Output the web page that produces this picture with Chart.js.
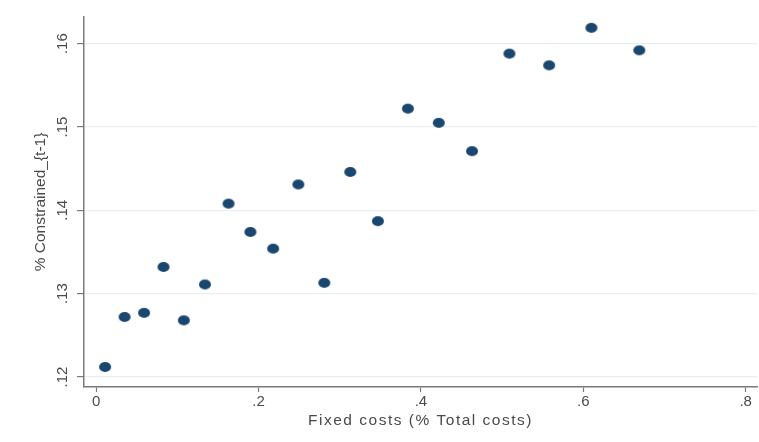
<!DOCTYPE html>
<html>
<head>
<meta charset="utf-8">
<script src="https://cdn.jsdelivr.net/npm/chart.js@4"></script>
<style>
  html, body { margin: 0; padding: 0; background: #ffffff; }
  #wrap { width: 759px; height: 442px; }
</style>
</head>
<body>
<div id="wrap"><canvas id="scatter"></canvas></div>
<script>
// Fixed costs share vs. share of constrained firms in the previous period
const fixedCosts = [0.011, 0.035, 0.059, 0.083, 0.108, 0.134, 0.163, 0.190, 0.218, 0.249,
                    0.281, 0.313, 0.347, 0.384, 0.422, 0.463, 0.509, 0.558, 0.610, 0.669];
const constrained = [0.1212, 0.1272, 0.1277, 0.1332, 0.1268, 0.1311, 0.1408, 0.1374, 0.1354, 0.1431,
                     0.1313, 0.1446, 0.1387, 0.1522, 0.1505, 0.1471, 0.1588, 0.1574, 0.1619, 0.1592];
const xTicks = [0, 0.2, 0.4, 0.6, 0.8];
const yTicks = [0.12, 0.13, 0.14, 0.15, 0.16];

const points = fixedCosts.map((x, i) => ({ x, y: constrained[i] }));

// Stata-style labels: drop the leading zero (".2", ".14")
const stataFmt = v => {
    if (v === 0) return '0';
    return String(+v.toFixed(2)).replace(/^0/, '');
};

// slightly wide oval marker, with a 1px margin so the edges aren't clipped
function ovalMarker(w, h, color) {
    const c = document.createElement('canvas');
    c.width = w + 2; c.height = h + 2;
    const g = c.getContext('2d');
    g.fillStyle = color;
    g.beginPath();
    g.ellipse(c.width / 2, c.height / 2, w / 2, h / 2, 0, 0, Math.PI * 2);
    g.fill();
    return c;
}

const axisGray = '#7a7a7a';
const textGray = '#4a4a4a';
const fontFamily = 'Liberation Sans, Arial, sans-serif';

// wider tracking for the horizontal axis title
function spacedTitle(scale) {
    if (scale._spaced) return;
    const orig = scale.drawTitle;
    scale.drawTitle = function () {
        this.ctx.save();
        this.ctx.letterSpacing = '1.5px';
        orig.apply(this, arguments);
        this.ctx.restore();
    };
    scale._spaced = true;
}

new Chart(document.getElementById('scatter'), {
    type: 'scatter',
    data: {
        datasets: [{
            data: points,
            pointStyle: ovalMarker(12, 10, '#1a476f'),
            backgroundColor: '#1a476f',
            borderColor: '#1a476f',
            pointRadius: 6,
            pointHoverRadius: 6
        }]
    },
    options: {
        responsive: true,
        maintainAspectRatio: false,
        animation: false,
        layout: { autoPadding: false, padding: { top: 17, right: 2, left: 0, bottom: 0 } },
        plugins: { legend: { display: false }, tooltip: { enabled: false } },
        scales: {
            x: {
                type: 'linear',
                min: -0.015,
                max: 0.814,
                afterBuildTicks: s => { s.ticks = xTicks.map(v => ({ value: v })); },
                afterFit: s => {
                    s.height = 55;
                    s.paddingLeft = 0;
                    s.paddingRight = 0;
                    spacedTitle(s);
                },
                border: { color: axisGray, width: 1.5 },
                grid: { drawOnChartArea: false, tickLength: 5, tickColor: axisGray, tickWidth: 1.2 },
                ticks: {
                    callback: v => stataFmt(v),
                    color: textGray,
                    padding: 1,
                    font: { family: fontFamily, size: 15 }
                },
                title: {
                    display: true,
                    text: 'Fixed costs (% Total costs)',
                    color: textGray,
                    padding: { top: 0, bottom: 12 },
                    font: { family: fontFamily, size: 15.5 }
                }
            },
            y: {
                type: 'linear',
                min: 0.1188,
                max: 0.1632,
                afterBuildTicks: s => { s.ticks = yTicks.map(v => ({ value: v })); },
                afterFit: s => { s.width = 84; },
                border: { color: axisGray, width: 1.5 },
                grid: { color: '#e8eff1', lineWidth: 1.2, tickLength: 7, tickColor: axisGray, tickWidth: 1.2 },
                ticks: {
                    callback: v => stataFmt(v),
                    color: textGray,
                    minRotation: 90,
                    maxRotation: 90,
                    crossAlign: 'center',
                    padding: 4,
                    font: { family: fontFamily, size: 15 }
                },
                title: {
                    display: true,
                    text: '% Constrained_{t-1}',
                    color: textGray,
                    padding: { top: 31, bottom: 0 },
                    font: { family: fontFamily, size: 15.5 }
                }
            }
        }
    }
});
</script>
</body>
</html>
